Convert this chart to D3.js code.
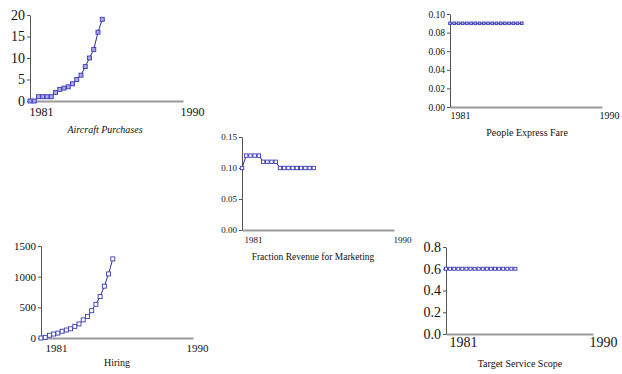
<!DOCTYPE html>
<html>
<head>
<meta charset="utf-8">
<script src="https://cdn.jsdelivr.net/npm/d3@7"></script>
<style>
  body { margin: 0; background: #fff; }
  svg { display: block; }
</style>
</head>
<body>
<div id="chart"></div>
<script>
// ---- data (quarterly simulation output) ----
const years = [1981, 1981.25, 1981.5, 1981.75, 1982, 1982.25, 1982.5, 1982.75, 1983,
               1983.25, 1983.5, 1983.75, 1984, 1984.25, 1984.5, 1984.75, 1985, 1985.25];
const xTickYears = [1981, 1990];

const aircraftPurchases = [0, 0, 1, 1, 1, 1, 2, 2.7, 3, 3.3, 4, 5, 6, 8, 10, 12, 16, 19];
const peopleExpressFare = [0.09, 0.09, 0.09, 0.09, 0.09, 0.09, 0.09, 0.09, 0.09,
                           0.09, 0.09, 0.09, 0.09, 0.09, 0.09, 0.09, 0.09, 0.09];
const fractionRevenueMarketing = [0.10, 0.12, 0.12, 0.12, 0.12, 0.11, 0.11, 0.11, 0.11,
                                  0.10, 0.10, 0.10, 0.10, 0.10, 0.10, 0.10, 0.10, 0.10];
const hiring = [0, 10, 45, 65, 80, 110, 130, 150, 190, 230, 295, 350, 445, 550, 675, 845, 1045, 1290];
const targetServiceScope = [0.6, 0.6, 0.6, 0.6, 0.6, 0.6, 0.6, 0.6, 0.6,
                            0.6, 0.6, 0.6, 0.6, 0.6, 0.6, 0.6, 0.6, 0.6];

const aircraftTicks = [0, 5, 10, 15, 20];
const fareTicks = [0, 0.02, 0.04, 0.06, 0.08, 0.10];
const marketingTicks = [0, 0.05, 0.10, 0.15];
const hiringTicks = [0, 500, 1000, 1500];
const scopeTicks = [0, 0.2, 0.4, 0.6, 0.8];

// ---- panel layout ----
const panels = [
  { title: 'Aircraft Purchases', values: aircraftPurchases, ticks: aircraftTicks, fmt: d3.format('d'),
    box: { left: 30, right: 183, top: 15, bottom: 101 }, yFont: 14, xFont: 12, titleFont: 10, italic: true,
    xLabelY: 116, xdx: [11, 9], titleX: 105, titleY: 133, marker: 4, markerFill: '#a8a8e6' },
  { title: 'People Express Fare', values: peopleExpressFare, ticks: fareTicks, fmt: d3.format('.2f'),
    box: { left: 450, right: 602, top: 14, bottom: 107 }, yFont: 9.5, xFont: 10, titleFont: 10, italic: false,
    xLabelY: 119, xdx: [10, 7], titleX: 527, titleY: 136, marker: 2.6, markerFill: '#b8b8ee' },
  { title: 'Fraction Revenue for Marketing', values: fractionRevenueMarketing, ticks: marketingTicks, fmt: d3.format('.2f'),
    box: { left: 242, right: 394, top: 137, bottom: 230 }, yFont: 9, xFont: 9, titleFont: 9.5, italic: false,
    xLabelY: 243, xdx: [11, 8], titleX: 313, titleY: 260, marker: 3.4, markerFill: '#fff' },
  { title: 'Hiring', values: hiring, ticks: hiringTicks, fmt: d3.format('d'),
    box: { left: 41, right: 193, top: 246, bottom: 338 }, yFont: 11, xFont: 11, titleFont: 10, italic: false,
    xLabelY: 352, xdx: [15, 4], titleX: 117, titleY: 366, marker: 4, markerFill: '#fff' },
  { title: 'Target Service Scope', values: targetServiceScope, ticks: scopeTicks, fmt: d3.format('.1f'),
    box: { left: 446, right: 593, top: 247, bottom: 334 }, yFont: 14, xFont: 14, titleFont: 10, italic: false,
    xLabelY: 347, xdx: [17, 10], titleX: 520, titleY: 367, marker: 3, markerFill: '#fff' }
];

const W = 622, H = 374;
const FONT = '"Liberation Serif", "Times New Roman", serif';

const svg = d3.select('#chart').append('svg')
  .attr('width', W).attr('height', H)
  .style('font-family', FONT);

panels.forEach(p => {
  const b = p.box;
  const x = d3.scaleLinear().domain([xTickYears[0], xTickYears[1]]).range([b.left, b.right]);
  const y = d3.scaleLinear().domain([0, d3.max(p.ticks)]).range([b.bottom, b.top]);
  const g = svg.append('g');

  // x axis: thick light grey baseline, two year labels
  const xAxis = g.append('g')
    .attr('transform', `translate(0,${b.bottom})`)
    .call(d3.axisBottom(x).tickValues(xTickYears).tickSize(0).tickSizeOuter(0)
      .tickFormat(d3.format('d')));
  xAxis.select('.domain').attr('stroke', '#9a9a9a').attr('stroke-width', 2);
  xAxis.selectAll('text')
    .attr('y', p.xLabelY - b.bottom).attr('dy', 0)
    .attr('dx', (d, i) => p.xdx[i])
    .attr('font-size', p.xFont + 'px').attr('font-family', FONT).attr('fill', '#111');

  // y axis
  const yAxis = g.append('g')
    .attr('transform', `translate(${b.left},0)`)
    .call(d3.axisLeft(y).tickValues(p.ticks).tickSize(3).tickSizeOuter(0).tickPadding(2)
      .tickFormat(p.fmt));
  yAxis.select('.domain').attr('stroke', '#555');
  yAxis.selectAll('.tick line').attr('stroke', '#555');
  yAxis.selectAll('text')
    .attr('font-size', p.yFont + 'px').attr('font-family', FONT).attr('fill', '#111');

  // series line
  const pts = years.map((yr, i) => [yr, p.values[i]]);
  g.append('path')
    .datum(pts)
    .attr('fill', 'none')
    .attr('stroke', '#2a2a98')
    .attr('stroke-width', 1)
    .attr('d', d3.line().x(d => x(d[0])).y(d => y(d[1])));

  // square markers
  g.selectAll('rect.mk')
    .data(pts).join('rect')
    .attr('class', 'mk')
    .attr('x', d => x(d[0]) - p.marker / 2)
    .attr('y', d => y(d[1]) - p.marker / 2)
    .attr('width', p.marker).attr('height', p.marker)
    .attr('fill', p.markerFill)
    .attr('stroke', '#3a3ab4').attr('stroke-width', 0.9);

  // title
  g.append('text')
    .attr('x', p.titleX).attr('y', p.titleY)
    .attr('text-anchor', 'middle')
    .attr('font-size', p.titleFont + 'px')
    .attr('font-style', p.italic ? 'italic' : 'normal')
    .attr('fill', '#111')
    .text(p.title);
});
</script>
</body>
</html>
